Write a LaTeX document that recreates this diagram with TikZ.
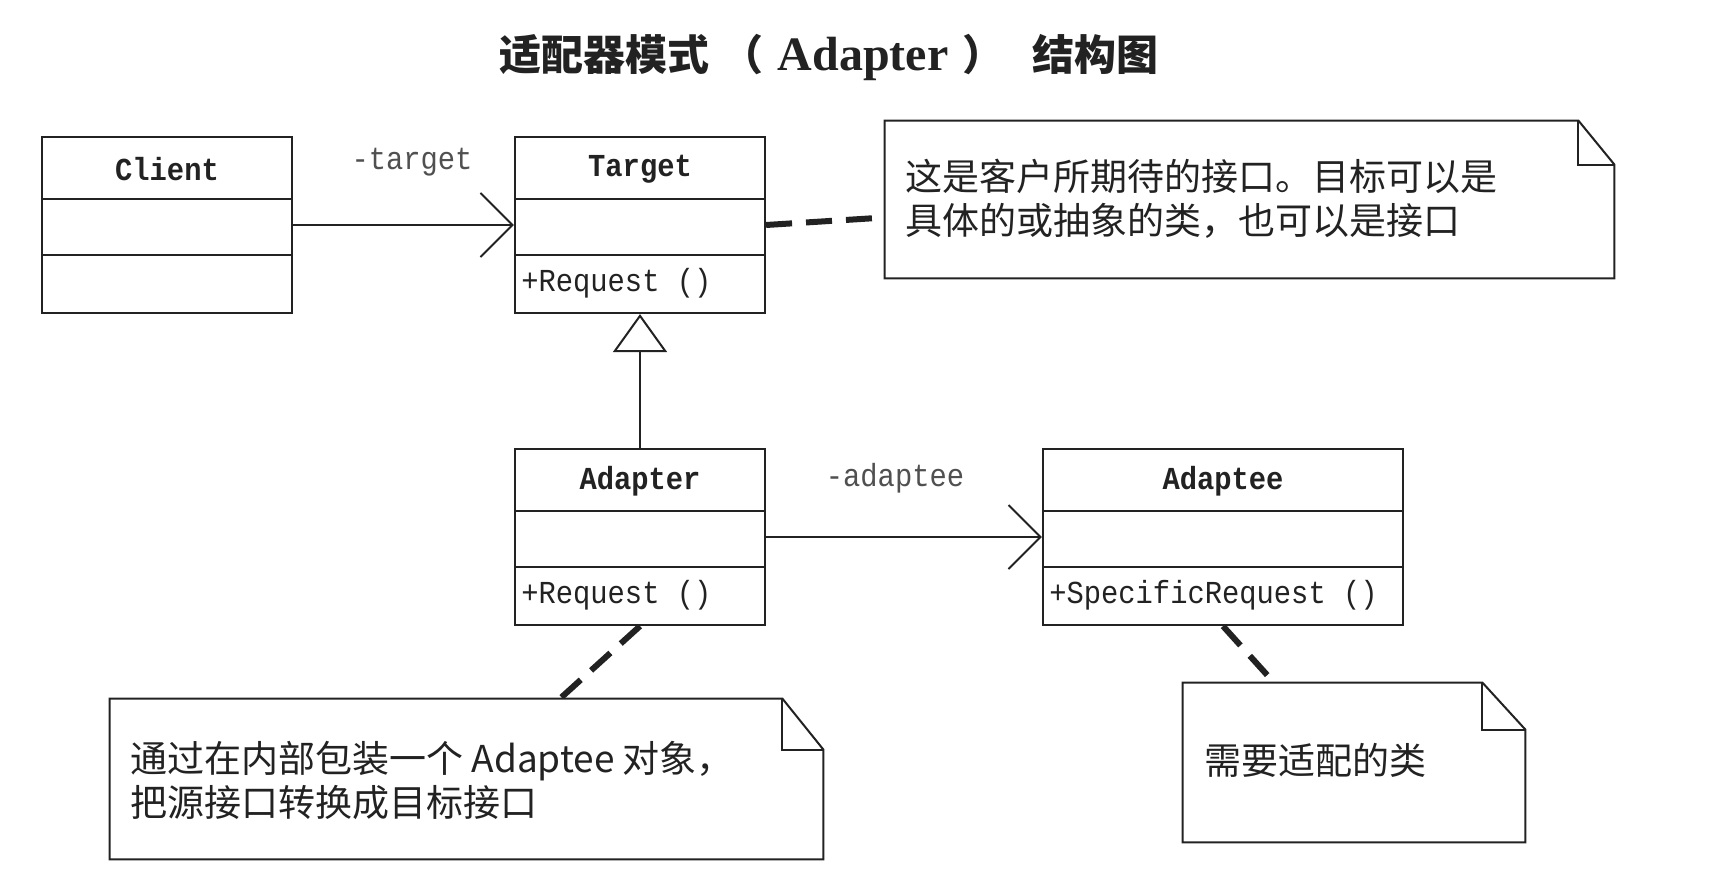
\documentclass[tikz,border=0pt]{standalone}
\usepackage{fontspec}
\setmainfont{Liberation Serif}
\newfontfamily\cjk{Noto Sans CJK SC}
\newfontfamily\umlfont[FakeStretch=0.9]{Liberation Mono}
\usetikzlibrary{arrows.meta}
\definecolor{ink}{HTML}{222222}
\definecolor{lblgray}{HTML}{505050}
\begin{document}
\begin{tikzpicture}[x=0.5pt,y=-0.5pt,
  classbox/.style={draw=ink, line width=1.1pt, inner sep=0pt, minimum height=88pt, fill=white},
  divider/.style={draw=ink, line width=1.1pt},
  cname/.style={font=\umlfont\bfseries\fontsize{16}{19}\selectfont, text=ink, inner sep=0pt},
  op/.style={font=\umlfont\fontsize{16}{19}\selectfont, text=ink, anchor=west, inner sep=0pt},
  role/.style={font=\umlfont\fontsize{16}{19}\selectfont, text=lblgray, inner sep=0pt},
  assoc/.style={draw=ink, line width=1pt, -{Straight Barb[length=16pt,width=32pt]}},
  inherit/.style={draw=ink, line width=1pt, -{Triangle[open,length=19pt,width=27pt]}},
  anchorline/.style={draw=ink, line width=3pt, dash pattern=on 13pt off 7pt},
  notebox/.style={inner sep=0pt},
  noteline/.style={draw=ink, line width=1pt, line join=miter},
  notetext/.style={font=\cjk\fontsize{18.5}{22}\selectfont, text=ink, align=left, anchor=west, inner sep=0pt},
  titlestyle/.style={font=\fontsize{21}{25}\selectfont, text=ink, inner sep=0pt}
]
\fill[white] (0,0) rectangle (1722,872);
\useasboundingbox (0,0) rectangle (1722,872);

% title
\node[titlestyle] (title) at (829,57) {\cjk\bfseries 适配器模式\hspace{6pt}（\hspace{7pt}{\rmfamily\bfseries\fontsize{24}{25}\selectfont Adapter}\hspace{7pt}）\hspace{14pt}结构图};

% classes
\node[classbox, minimum width=125pt] (client) at (167,225) {};
\node[classbox, minimum width=125pt] (target) at (640,225) {};
\node[classbox, minimum width=125pt] (adapter) at (640,537) {};
\node[classbox, minimum width=180pt] (adaptee) at (1223,537) {};

\foreach \c in {client,target,adapter,adaptee}{
  \draw[divider] ([yshift=-31.5pt]\c.north west) -- ([yshift=-31.5pt]\c.north east);
  \draw[divider] ([yshift=-59.5pt]\c.north west) -- ([yshift=-59.5pt]\c.north east);
}

\node[cname] (clientname) at ([yshift=-16.5pt]client.north) {Client};
\node[cname] (targetname) at ([yshift=-16.5pt]target.north) {Target};
\node[cname] (adaptername) at ([yshift=-16.5pt]adapter.north) {Adapter};
\node[cname] (adapteename) at ([yshift=-16.5pt]adaptee.north) {Adaptee};

\node[op] (targetop) at ([xshift=3.5pt,yshift=-73.75pt]target.north west) {+Request ()};
\node[op] (adapterop) at ([xshift=3.5pt,yshift=-73.75pt]adapter.north west) {+Request ()};
\node[op] (adapteeop) at ([xshift=3.5pt,yshift=-73.75pt]adaptee.north west) {+SpecificRequest ()};

% associations
\draw[assoc] (client) -- (target);
\draw[assoc] (adapter) -- (adaptee);
\draw[inherit] (adapter) -- (target);

\node[role] (roletarget) at (412,162) {-target};
\node[role] (roleadaptee) at (895,478) {-adaptee};

% notes
\node[notebox, minimum width=364.5pt, minimum height=78.5pt] (n1) at (1249.5,199.5) {};
\node[notebox, minimum width=356.5pt, minimum height=80pt] (n2) at (466.5,779) {};
\node[notebox, minimum width=171pt, minimum height=79.5pt] (n3) at (1354,762.5) {};

\draw[anchorline] (target.east) -- ([yshift=-9pt]n1.west);
\draw[anchorline] (adapter.south) -- ([xshift=46.75pt]n2.north);
\draw[anchorline] (adaptee.south) -- ([xshift=-40pt]n3.north);

\draw[noteline, fill=white] (n1.north west) -- ([xshift=-18pt]n1.north east) -- ([yshift=-22pt]n1.north east) -- (n1.south east) -- (n1.south west) -- cycle;
\draw[noteline] ([xshift=-18pt]n1.north east) |- ([yshift=-22pt]n1.north east);

\draw[noteline, fill=white] (n2.north west) -- ([xshift=-20.5pt]n2.north east) -- ([yshift=-25.5pt]n2.north east) -- (n2.south east) -- (n2.south west) -- cycle;
\draw[noteline] ([xshift=-20.5pt]n2.north east) |- ([yshift=-25.5pt]n2.north east);

\draw[noteline, fill=white] (n3.north west) -- ([xshift=-21.5pt]n3.north east) -- ([yshift=-23.5pt]n3.north east) -- (n3.south east) -- (n3.south west) -- cycle;
\draw[noteline] ([xshift=-21.5pt]n3.north east) |- ([yshift=-23.5pt]n3.north east);

\node[notetext] (n1text) at (905,199) {这是客户所期待的接口。目标可以是\\具体的或抽象的类，也可以是接口};
\node[notetext] (n2text) at (130,780) {通过在内部包装一个 Adaptee 对象，\\把源接口转换成目标接口};
\node[notetext] (n3text) at (1204,760) {需要适配的类};
\end{tikzpicture}
\end{document}
